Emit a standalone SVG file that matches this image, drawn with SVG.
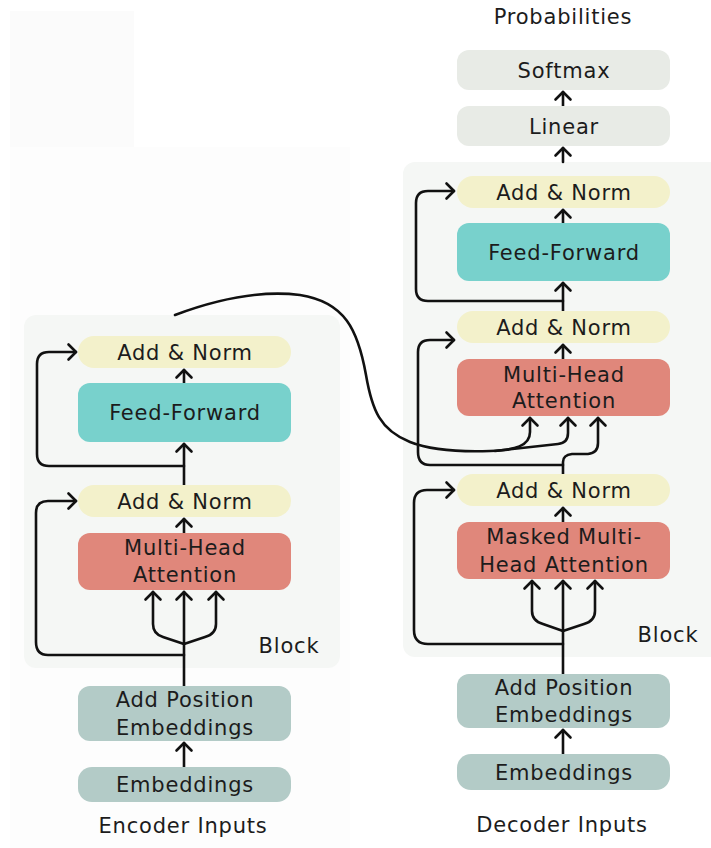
<svg xmlns="http://www.w3.org/2000/svg" width="711" height="848" viewBox="0 0 711 848">
<defs>
<marker id="ah" viewBox="-10 -10 20 20" markerWidth="20" markerHeight="20" markerUnits="userSpaceOnUse" orient="auto" refX="0" refY="0">
<path d="M-7.5,-7.5 L0,0 L-7.5,7.5" fill="none" stroke="#111" stroke-width="2.6" stroke-linecap="round" stroke-linejoin="round"/>
</marker>
</defs>
<style>
.t{font-family:"DejaVu Sans",sans-serif;font-size:21px;letter-spacing:0.8px;fill:#1c1c1c;text-anchor:middle}
.c{fill:none;stroke:#111;stroke-width:2.6;stroke-linecap:round;stroke-linejoin:round}
.a{marker-end:url(#ah)}
.an{fill:#f3f1cb}
.ff{fill:#78d1cc}
.mh{fill:#e0877b}
.em{fill:#b3cbc7}
.gr{fill:#e8ebe6}
.pn{fill:#f5f7f5}
</style>
<rect width="711" height="848" fill="#ffffff"/>
<rect x="10" y="11" width="124" height="136" fill="#fbfbfb"/>
<rect x="10" y="147" width="340" height="701" fill="#fdfdfd"/>

<g id="encoder-block"><rect class="pn" x="24" y="315" width="316" height="353" rx="12"/><text class="t" x="289" y="653">Block</text></g>
<g id="decoder-block"><rect class="pn" x="403" y="162" width="320" height="495" rx="12"/><text class="t" x="668" y="642">Block</text></g>

<g id="connectors">
<path class="c a" d="M563,162 V148"/>
<path class="c a" d="M563,106 V92"/>
<path class="c a" d="M175,315 C215,300 260,290 300,295 C345,302 358,330 366,375 C372,410 380,430 410,442 C430,450 460,452 490,451 C515,450 530,446 530,432 V418"/>
<path class="c a" d="M495,451 C530,447 550,445 558,444 Q568,443 568,433 V418"/>
<!-- encoder -->
<path class="c a" d="M184,767 V743"/>
<path class="c a" d="M184,686 V592"/>
<path class="c a" d="M184,644 L163,637 Q153,634 153,624 V592"/>
<path class="c a" d="M184,644 L205,637 Q216,634 216,624 V592"/>
<path class="c a" d="M184,655 H48 Q36,655 36,642 V513 Q36,501 48,501 H76"/>
<path class="c a" d="M184,533 V519"/>
<path class="c a" d="M184,485 V444"/>
<path class="c a" d="M184,466 H49 Q37,466 37,454 V364 Q37,352 49,352 H76"/>
<path class="c a" d="M184,383 V370"/>
<!-- decoder -->
<path class="c a" d="M563,754 V730"/>
<path class="c a" d="M563,674 V581"/>
<path class="c a" d="M563,631 L543,624 Q532,621 532,611 V581"/>
<path class="c a" d="M563,631 L584,624 Q595,621 595,611 V581"/>
<path class="c a" d="M563,644 H428 Q414,644 414,630 V503 Q414,490 427,490 H454"/>
<path class="c a" d="M563,522 V508"/>
<path class="c a" d="M563,474 V462 Q563,455 572,454 H588 Q598,453 598,443 V418"/>
<path class="c a" d="M563,465 H430 Q418,465 418,452 V352 Q418,340 430,340 H454"/>
<path class="c a" d="M563,359 V345"/>
<path class="c a" d="M563,311 V283"/>
<path class="c a" d="M563,301 H428 Q416,301 416,289 V203 Q416,191 428,191 H454"/>
<path class="c a" d="M563,223 V210"/>
</g>

<g id="prob-label"><text class="t" x="563" y="24">Probabilities</text></g>
<g id="softmax"><rect class="gr" x="457" y="50" width="213" height="40" rx="12"/><text class="t" x="564" y="77.5">Softmax</text></g>
<g id="linear"><rect class="gr" x="457" y="106" width="213" height="40" rx="12"/><text class="t" x="564" y="133.5">Linear</text></g>

<g id="dec-addnorm-3"><rect class="an" x="457" y="176" width="213" height="32" rx="16"/><text class="t" x="564" y="199.5">Add &amp; Norm</text></g>
<g id="dec-ff"><rect class="ff" x="457" y="223" width="213" height="58" rx="12"/><text class="t" x="564" y="259.5">Feed-Forward</text></g>
<g id="dec-addnorm-2"><rect class="an" x="457" y="311" width="213" height="32" rx="16"/><text class="t" x="564" y="334.5">Add &amp; Norm</text></g>
<g id="dec-mha"><rect class="mh" x="457" y="359" width="213" height="57" rx="12"/><text class="t" x="564" y="382">Multi-Head</text><text class="t" x="564" y="408">Attention</text></g>
<g id="dec-addnorm-1"><rect class="an" x="457" y="474" width="213" height="32" rx="16"/><text class="t" x="564" y="497.5">Add &amp; Norm</text></g>
<g id="dec-masked"><rect class="mh" x="457" y="522" width="213" height="57" rx="12"/><text class="t" x="564" y="544">Masked Multi-</text><text class="t" x="564" y="571.5">Head Attention</text></g>
<g id="dec-pos"><rect class="em" x="457" y="674" width="213" height="54" rx="12"/><text class="t" x="564" y="695">Add Position</text><text class="t" x="564" y="722">Embeddings</text></g>
<g id="dec-emb"><rect class="em" x="457" y="754" width="213" height="36" rx="14"/><text class="t" x="564" y="779.5">Embeddings</text></g>
<g id="dec-inputs"><text class="t" x="562" y="832">Decoder Inputs</text></g>

<g id="enc-addnorm-2"><rect class="an" x="78" y="336" width="213" height="32" rx="16"/><text class="t" x="185" y="359.5">Add &amp; Norm</text></g>
<g id="enc-ff"><rect class="ff" x="78" y="383" width="213" height="59" rx="12"/><text class="t" x="185" y="420">Feed-Forward</text></g>
<g id="enc-addnorm-1"><rect class="an" x="78" y="485" width="213" height="32" rx="16"/><text class="t" x="185" y="508.5">Add &amp; Norm</text></g>
<g id="enc-mha"><rect class="mh" x="78" y="533" width="213" height="57" rx="12"/><text class="t" x="185" y="555">Multi-Head</text><text class="t" x="185" y="582">Attention</text></g>
<g id="enc-pos"><rect class="em" x="78" y="686" width="213" height="55" rx="12"/><text class="t" x="185" y="707">Add Position</text><text class="t" x="185" y="735">Embeddings</text></g>
<g id="enc-emb"><rect class="em" x="78" y="767" width="213" height="35" rx="14"/><text class="t" x="185" y="792">Embeddings</text></g>
<g id="enc-inputs"><text class="t" x="183" y="833">Encoder Inputs</text></g>
</svg>
